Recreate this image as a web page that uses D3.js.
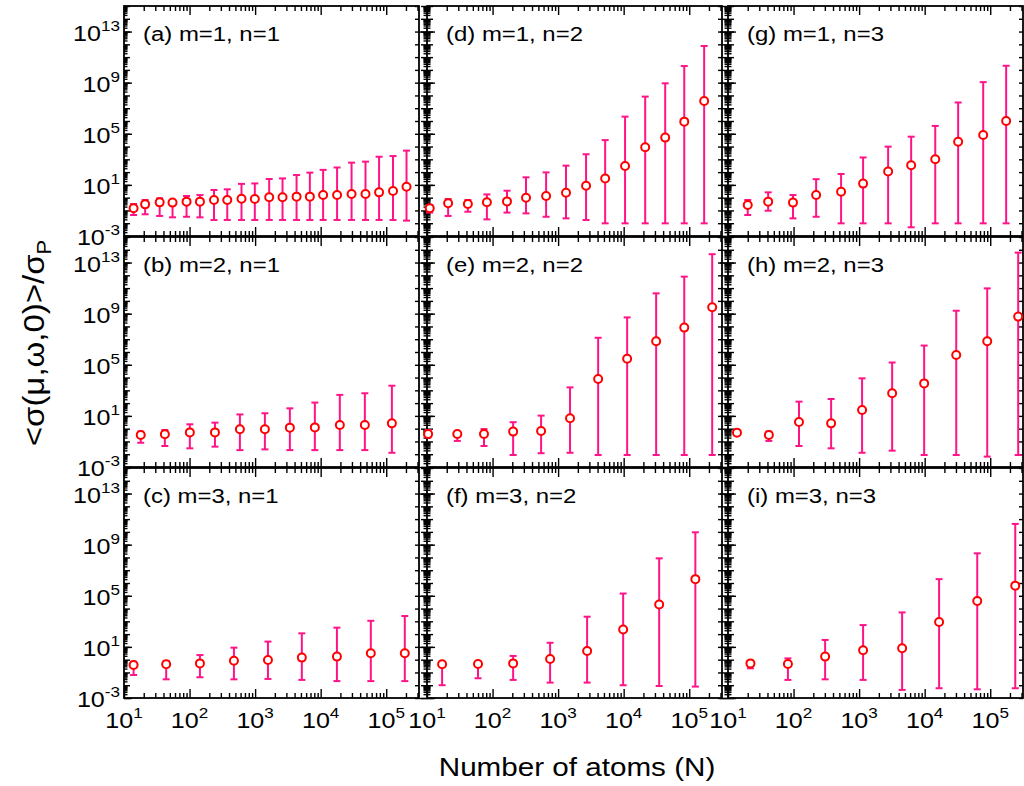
<!DOCTYPE html>
<html>
<head>
<meta charset="utf-8">
<script src="https://cdn.jsdelivr.net/npm/d3@7"></script>
<style>
  body { margin: 0; background: #fff; }
  text { font-family: "Liberation Sans", Arial, sans-serif; fill: #000; }
</style>
</head>
<body>
<svg width="1024" height="786"></svg>
<script>
// Number of atoms N, and <sigma>/sigma_P: mean, lower and upper end of error bar
var nA = [14, 21, 35, 55, 90, 144, 236, 376, 620, 990, 1640, 2620, 4290, 6840, 10900, 17800, 29600, 48300, 77800, 127000, 204000];
var meanA = [0.15, 0.30, 0.43, 0.41, 0.49, 0.49, 0.66, 0.66, 0.83, 0.79, 1.07, 1.07, 1.2, 1.2, 1.6, 1.6, 1.95, 1.95, 2.6, 3.3, 7.2];
var hiA = [0.32, 0.66, 0.89, 0.66, 1.35, 1.6, 4.0, 4.5, 12, 13, 29, 32, 59, 91, 150, 230, 550, 660, 1600, 1800, 4800];
var loA = [0.044, 0.050, 0.037, 0.029, 0.032, 0.029, 0.018, 0.018, 0.018, 0.018, 0.018, 0.018, 0.018, 0.018, 0.018, 0.018, 0.018, 0.018, 0.018, 0.018, 0.016];

var nB = [18, 42, 101, 244, 586, 1410, 3390, 8150, 19600, 47200, 122000];
var meanB = [0.32, 0.36, 0.51, 0.51, 0.89, 0.89, 1.2, 1.26, 1.95, 1.95, 2.6];
var hiB = [0.59, 0.79, 2.2, 2.95, 13, 16, 39, 110, 440, 590, 2300];
var loB = [0.079, 0.044, 0.029, 0.039, 0.021, 0.024, 0.021, 0.021, 0.021, 0.021, 0.013];

var nC = [14, 44, 144, 475, 1570, 5160, 17700, 58200, 192000];
var meanC = [0.38, 0.44, 0.51, 0.83, 0.93, 1.45, 1.74, 3.2, 3.2];
var hiC = [0.69, 0.79, 2.3, 8.7, 26, 115, 320, 1100, 2600];
var loC = [0.063, 0.029, 0.042, 0.029, 0.031, 0.026, 0.021, 0.021, 0.021];

var nD = [11, 21, 42, 82, 166, 324, 656, 1320, 2670, 5220, 10500, 21300, 43000, 84000, 169000];
var meanD = [0.15, 0.36, 0.32, 0.44, 0.51, 1.0, 1.35, 2.45, 8.7, 32, 300, 8700, 5.0e4, 8.9e5, 3.7e7];
var hiD = [0.27, 0.79, 0.66, 1.8, 3.5, 39, 95, 320, 2500, 3.2e4, 2.2e6, 8.1e7, 8.9e8, 2.0e10, 7.4e11];
var loD = [0.068, 0.037, 0.079, 0.020, 0.068, 0.059, 0.032, 0.024, 0.018, 0.0098, 0.0098, 0.0098, 0.0098, 0.0098, 0.0098];

var nE = [10.4, 29, 74, 206, 550, 1520, 4080, 11300, 31300, 84000, 224000];
var meanE = [0.38, 0.38, 0.38, 0.59, 0.66, 6.5, 7800, 3.0e5, 6.9e6, 8.1e7, 3.2e9];
var hiE = [0.79, 0.59, 0.93, 3.2, 10.5, 1700, 1.3e7, 5.1e8, 3.9e10, 7.9e11, 4.5e13];
var loE = [0.21, 0.11, 0.044, 0.0087, 0.012, 0.013, 0.0087, 0.0087, 0.0087, 0.0087, 0.0087];

var nF = [17, 60, 206, 755, 2770, 9820, 34800, 124000];
var meanF = [0.44, 0.46, 0.51, 1.12, 4.8, 230, 2.1e4, 2.0e6];
var hiF = [0.69, 0.69, 1.95, 21, 2300, 1.5e5, 8.5e7, 9.3e9];
var loF = [0.010, 0.035, 0.026, 0.016, 0.016, 0.010, 0.0087, 0.0078];

var nG = [20, 41, 98, 221, 531, 1150, 2770, 6220, 14500, 32400, 78100, 175000];
var meanG = [0.27, 0.49, 0.41, 1.6, 2.95, 12.6, 110, 340, 1000, 2.4e4, 8.1e4, 1.0e6];
var hiG = [0.66, 2.6, 1.6, 28, 71, 1400, 9800, 5.9e4, 4.1e5, 2.8e7, 1.1e9, 2.1e10];
var loG = [0.044, 0.095, 0.024, 0.032, 0.0098, 0.0098, 0.0098, 0.0048, 0.0098, 0.0098, 0.0098, 0.0098];

var nH = [13.7, 42, 121, 374, 1110, 3190, 9820, 30300, 90000, 267000];
var meanH = [0.49, 0.32, 3.3, 2.6, 29, 590, 3500, 5.9e5, 6.9e6, 5.9e8];
var hiH = [0.69, 0.59, 130, 210, 8700, 1.5e5, 3.2e6, 1.7e9, 9.5e10, 6.0e13];
var loH = [0.32, 0.11, 0.044, 0.029, 0.013, 0.019, 0.0087, 0.0087, 0.0065, 0.0087];

var nI = [22, 82, 303, 1150, 4530, 16600, 63400, 241000];
var meanI = [0.51, 0.46, 1.74, 5.4, 7.8, 890, 3.9e4, 6.2e5];
var hiI = [0.79, 1.26, 35, 510, 5000, 2.0e6, 2.1e8, 4.2e10];
var loI = [0.21, 0.026, 0.029, 0.026, 0.0043, 0.0058, 0.0048, 0.0058];

// tick label exponents
var yLabelExp = [-3, 1, 5, 9, 13];
var xLabelExp = [1, 2, 3, 4, 5];

var panels = [
  {label: "(a) m=1, n=1", col: 0, row: 0, n: nA, mean: meanA, lo: loA, hi: hiA},
  {label: "(b) m=2, n=1", col: 0, row: 1, n: nB, mean: meanB, lo: loB, hi: hiB},
  {label: "(c) m=3, n=1", col: 0, row: 2, n: nC, mean: meanC, lo: loC, hi: hiC},
  {label: "(d) m=1, n=2", col: 1, row: 0, n: nD, mean: meanD, lo: loD, hi: hiD},
  {label: "(e) m=2, n=2", col: 1, row: 1, n: nE, mean: meanE, lo: loE, hi: hiE},
  {label: "(f) m=3, n=2", col: 1, row: 2, n: nF, mean: meanF, lo: loF, hi: hiF},
  {label: "(g) m=1, n=3", col: 2, row: 0, n: nG, mean: meanG, lo: loG, hi: hiG},
  {label: "(h) m=2, n=3", col: 2, row: 1, n: nH, mean: meanH, lo: loH, hi: hiH},
  {label: "(i) m=3, n=3", col: 2, row: 2, n: nI, mean: meanI, lo: loI, hi: hiI}
];

var svg = d3.select("svg");
svg.append("rect").attr("width", 1024).attr("height", 786).attr("fill", "#fff");

var colX = [124, 427, 728], rowY = [6, 237, 468];
var pw = 295, ph = 230;
var SX = 1.14; // text in the figure is a bit wider than the font

var x = d3.scaleLog().domain([10, 316228]).range([0, pw]);
var y = d3.scaleLog().domain([1e-3, 1e15]).range([ph, 0]);

// tick positions
var yDec = d3.range(-3, 16).map(function(k) { return Math.pow(10, k); });
var yLab = yLabelExp.map(function(k) { return Math.pow(10, k); });
var yMinor = [];
d3.range(-3, 15).forEach(function(k) {
  d3.range(2, 10).forEach(function(m) { yMinor.push(m * Math.pow(10, k)); });
});
var xDec = xLabelExp.map(function(k) { return Math.pow(10, k); });
var xMinor = [];
d3.range(1, 6).forEach(function(k) {
  d3.range(2, 10).forEach(function(m) {
    if (m * Math.pow(10, k) <= 316228) xMinor.push(m * Math.pow(10, k));
  });
});

function ticks(g, axisFn, scale, values, size) {
  g.call(axisFn(scale).tickValues(values).tickSize(size).tickSizeOuter(0).tickFormat(""));
  g.select(".domain").remove();
  g.selectAll("line").attr("stroke", "#000").attr("stroke-width", 1.4);
}

function addText(parent, tx, ty, size, anchor) {
  return parent.append("text")
    .attr("transform", "translate(" + tx + "," + ty + ") scale(" + SX + ",1)")
    .attr("font-size", size)
    .attr("text-anchor", anchor);
}

function powLabel(parent, tx, ty, exp, anchor) {
  var t = addText(parent, tx, ty, 22, anchor);
  t.append("tspan").text("10");
  t.append("tspan").attr("font-size", 15).attr("dy", -10).text(exp);
}

// axes and frames
panels.forEach(function(p) {
  var g = svg.append("g").attr("transform", "translate(" + colX[p.col] + "," + rowY[p.row] + ")");

  // bottom and top x axes, ticks inward
  var gb = g.append("g").attr("transform", "translate(0," + ph + ")");
  ticks(gb.append("g"), d3.axisTop, x, xMinor, 5);
  ticks(gb.append("g"), d3.axisTop, x, xDec, 9);
  var gt = g.append("g");
  ticks(gt.append("g"), d3.axisBottom, x, xMinor, 5);
  ticks(gt.append("g"), d3.axisBottom, x, xDec, 9);

  // left y axis: dense ticks inward (and outward for inner columns)
  var gl = g.append("g");
  ticks(gl.append("g"), d3.axisRight, y, yMinor, 3.5);
  ticks(gl.append("g"), d3.axisRight, y, yDec, 6);
  ticks(gl.append("g"), d3.axisRight, y, yLab, 8);
  if (p.col > 0) {
    ticks(gl.append("g"), d3.axisLeft, y, yMinor, 3.5);
    ticks(gl.append("g"), d3.axisLeft, y, yDec, 6);
    ticks(gl.append("g"), d3.axisLeft, y, yLab, 8);
  }

  // right y axis: decade ticks only
  var gr = g.append("g").attr("transform", "translate(" + pw + ",0)");
  ticks(gr, d3.axisLeft, y, yDec, 4);

  g.append("rect")
    .attr("width", pw).attr("height", ph)
    .attr("fill", "none").attr("stroke", "#000").attr("stroke-width", 1.8);

  addText(g, 19, 35, 21, "start").text(p.label);

  if (p.col === 0) {
    yLab.forEach(function(v, i) {
      powLabel(g, -4, y(v) + 9, String(yLabelExp[i]), "end");
    });
  }
  if (p.row === 2) {
    xDec.forEach(function(v, i) {
      powLabel(g, x(v), ph + 30, String(xLabelExp[i]), "middle");
    });
  }
});

// data on top of the axes
panels.forEach(function(p) {
  var g = svg.append("g").attr("transform", "translate(" + colX[p.col] + "," + rowY[p.row] + ")");
  var idx = d3.range(p.n.length);
  var barColor = "#ff1488";

  var bars = g.append("g").attr("stroke", barColor).attr("stroke-width", 2).attr("fill", "none");
  bars.selectAll(".stem").data(idx).enter().append("line")
    .attr("x1", function(i) { return x(p.n[i]); })
    .attr("x2", function(i) { return x(p.n[i]); })
    .attr("y1", function(i) { return y(p.lo[i]); })
    .attr("y2", function(i) { return y(p.hi[i]); });
  bars.selectAll(".capHi").data(idx).enter().append("line")
    .attr("x1", function(i) { return x(p.n[i]) - 3.5; })
    .attr("x2", function(i) { return x(p.n[i]) + 3.5; })
    .attr("y1", function(i) { return y(p.hi[i]); })
    .attr("y2", function(i) { return y(p.hi[i]); });
  bars.selectAll(".capLo").data(idx).enter().append("line")
    .attr("x1", function(i) { return x(p.n[i]) - 3.5; })
    .attr("x2", function(i) { return x(p.n[i]) + 3.5; })
    .attr("y1", function(i) { return y(p.lo[i]); })
    .attr("y2", function(i) { return y(p.lo[i]); });

  g.selectAll("circle").data(idx).enter().append("circle")
    .attr("cx", function(i) { return x(p.n[i]); })
    .attr("cy", function(i) { return y(p.mean[i]); })
    .attr("r", 4)
    .attr("fill", "#fff")
    .attr("stroke", "#ff0000")
    .attr("stroke-width", 2);
});

// axis titles
var xt = addText(svg, 577, 776, 26, "middle");
xt.text("Number of atoms (N)");

var yt = svg.append("text")
  .attr("transform", "translate(44,343) rotate(-90) scale(1.1,1)")
  .attr("font-size", 30)
  .attr("text-anchor", "middle");
yt.append("tspan").text("<σ(μ,ω,0)>/σ");
yt.append("tspan").attr("font-size", 20).attr("dy", 7).text("P");
</script>
